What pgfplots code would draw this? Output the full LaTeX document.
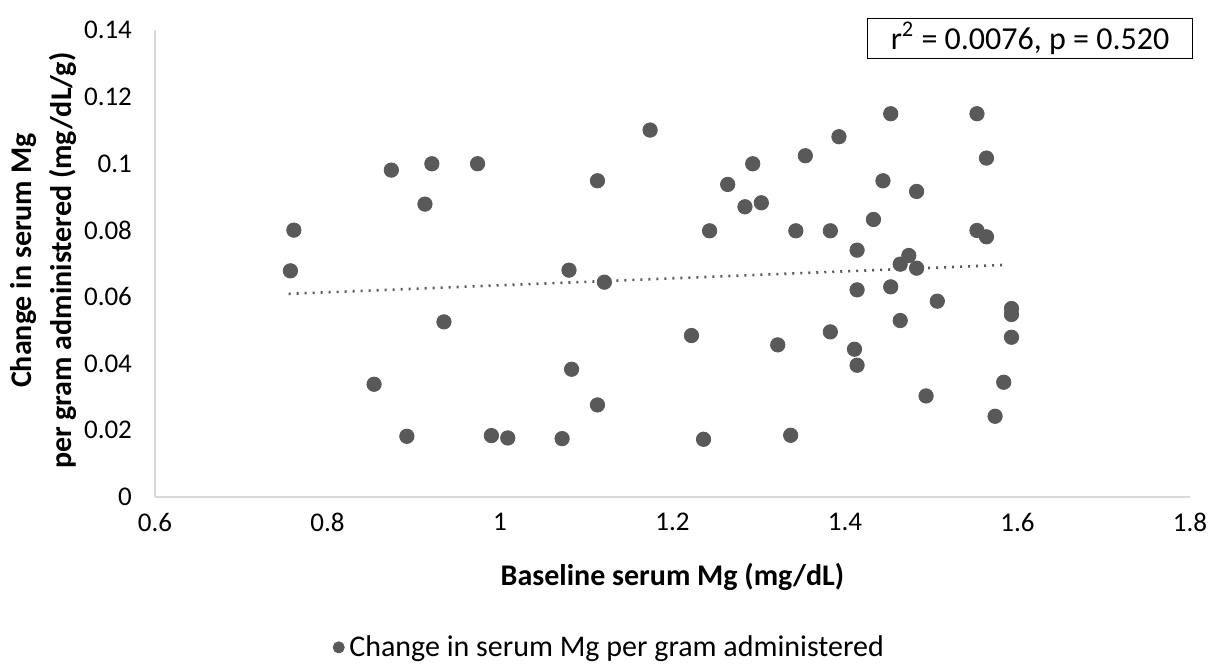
\documentclass[border=0pt]{standalone}
\usepackage{pgfplots}
\pgfplotsset{compat=1.18}
\usepackage{fontspec}
\setmainfont{Carlito}
\definecolor{mk}{HTML}{595959}
\definecolor{axl}{HTML}{D9D9D9}
\begin{document}
\begin{tikzpicture}
\useasboundingbox (0,0) rectangle (610pt,334pt);
\begin{axis}[
  at={(77.5pt,85.5pt)}, anchor=south west,
  scale only axis, width=517.5pt, height=233.5pt,
  xmin=0.6, xmax=1.8, ymin=0, ymax=0.14,
  xtick={0.6,0.8,1,1.2,1.4,1.6,1.8},
  ytick={0,0.02,0.04,0.06,0.08,0.1,0.12,0.14},
  xticklabels={0.6,0.8,1,1.2,1.4,1.6,1.8},
  yticklabels={0,0.02,0.04,0.06,0.08,0.1,0.12,0.14},
  axis x line=bottom, axis y line=left,
  axis line style={axl, line width=0.8pt, -},
  major tick length=0pt,
  tick label style={font=\fontsize{13.5}{15}\selectfont, text=black},
  xticklabel style={anchor=north, yshift=-4.5pt},
  yticklabel style={anchor=east, xshift=-8pt},
  xlabel={\textbf{Baseline serum Mg (mg/dL)}},
  xlabel style={font=\fontsize{15}{18}\selectfont, at={(axis description cs:0.5,-0.171)}, anchor=center},
  ylabel={\textbf{Change in serum Mg}\\\textbf{per gram administered (mg/dL/g)}},
  ylabel style={font=\fontsize{15}{20}\selectfont, align=center, at={(axis description cs:-0.108,0.506)}, anchor=center},
  legend style={at={(axis description cs:0.4406,-0.322)}, anchor=center, draw=none, font=\fontsize{15}{18}\selectfont, inner sep=0pt, nodes={inner xsep=2.5pt}},
  legend image post style={mark size=2.8pt},
  legend cell align=left,
  clip=false,
]
\addplot[only marks, mark=*, mark size=3.6pt, mark options={fill=mk, draw=mk}] coordinates {
(0.757,0.0678) (0.761,0.0800) (0.854,0.0338) (0.874,0.0980) (0.892,0.0182)
(0.913,0.0878) (0.921,0.0999) (0.935,0.0525) (0.974,0.0999) (0.990,0.0184)
(1.009,0.0177) (1.072,0.0175) (1.080,0.0680) (1.083,0.0383) (1.113,0.0948)
(1.113,0.0276) (1.121,0.0644) (1.174,0.1100) (1.222,0.0484) (1.236,0.0173)
(1.243,0.0798) (1.264,0.0937) (1.284,0.0870) (1.293,0.0999) (1.303,0.0882)
(1.322,0.0456) (1.337,0.0185) (1.343,0.0798) (1.354,0.1023) (1.383,0.0798)
(1.383,0.0495) (1.393,0.1080) (1.411,0.0443) (1.414,0.0740) (1.414,0.0621)
(1.414,0.0395) (1.433,0.0832) (1.444,0.0948) (1.453,0.1149) (1.453,0.0630)
(1.464,0.0698) (1.464,0.0529) (1.474,0.0724) (1.483,0.0916) (1.483,0.0686)
(1.494,0.0303) (1.507,0.0587) (1.553,0.1149) (1.553,0.0799) (1.564,0.1016)
(1.564,0.0780) (1.574,0.0242) (1.584,0.0344) (1.593,0.0565) (1.593,0.0547)
(1.593,0.0479)
};
\addlegendentry{Change in serum Mg per gram administered}
\addplot[mk, line width=1.3pt, dash pattern=on 1pt off 3pt, forget plot] coordinates {(0.755,0.0609) (1.587,0.0696)};
\node[draw=black, line width=0.6pt, anchor=north east, minimum width=162.5pt, minimum height=20pt, inner sep=0pt, font=\fontsize{16}{18}\selectfont] at (rel axis cs:1.003,1.026) {r\textsuperscript{2} = 0.0076, p = 0.520};
\end{axis}
\end{tikzpicture}
\end{document}
